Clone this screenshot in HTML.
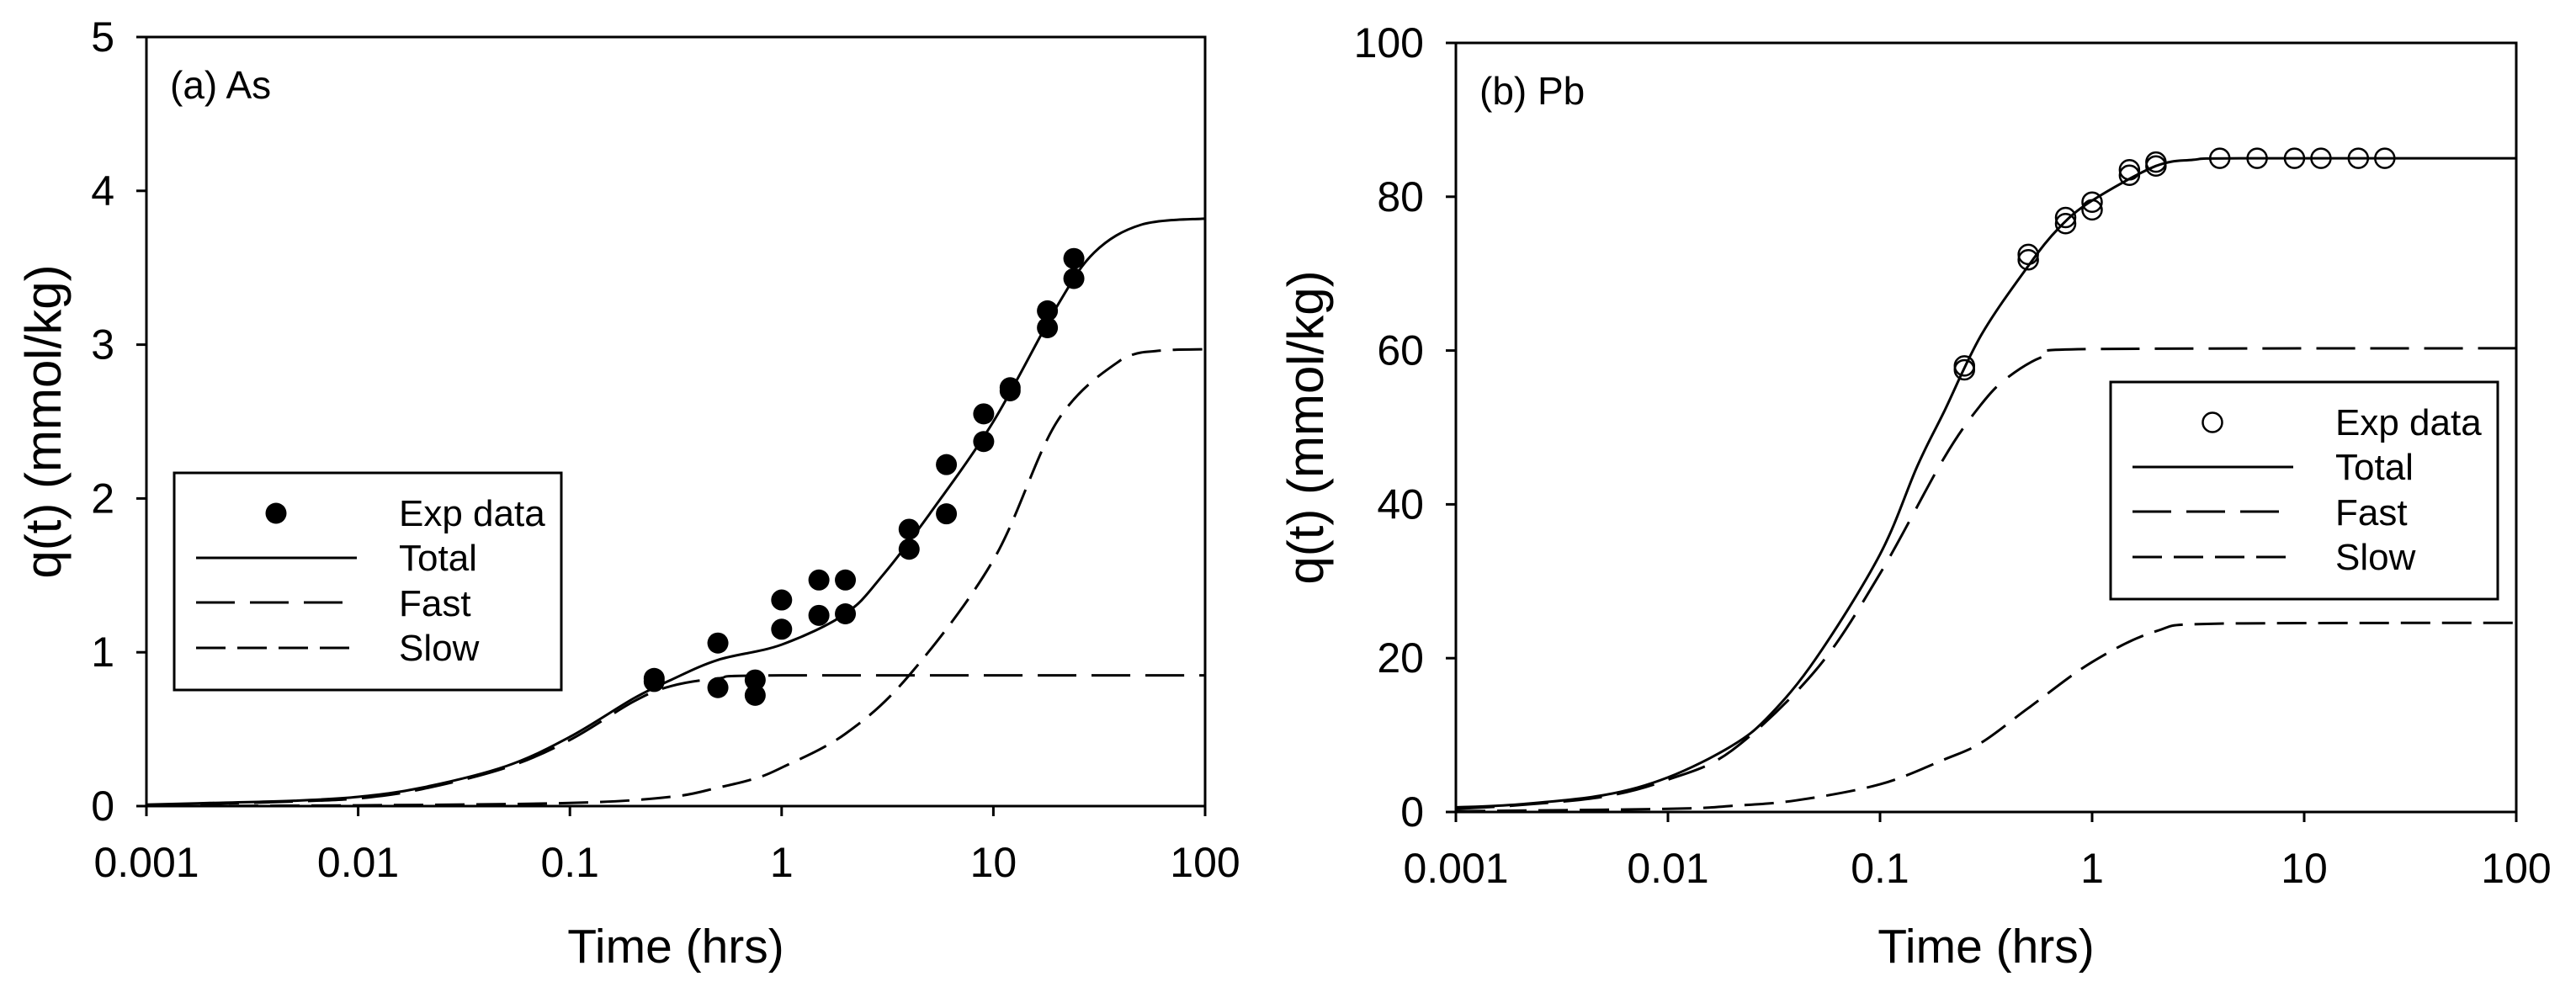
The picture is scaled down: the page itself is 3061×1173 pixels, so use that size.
<!DOCTYPE html>
<html><head><meta charset="utf-8"><style>
html,body{margin:0;padding:0;background:#fff}
svg{display:block;font-family:"Liberation Sans",Arial,sans-serif}
</style></head><body>
<svg id="fig" width="3061" height="1173" viewBox="0 0 3061 1173" xmlns="http://www.w3.org/2000/svg"></svg>
<script>
// ---------- Data: panel (a) As ----------
const asExpX = [0.25,0.25,0.5,0.5,0.75,0.75,1,1,1.5,1.5,2,2,4,4,6,6,9,9,12,12,18,18,24,24];
const asExpY = [0.83,0.81,1.06,0.77,0.82,0.72,1.34,1.15,1.47,1.24,1.47,1.25,1.80,1.67,2.22,1.90,2.55,2.37,2.72,2.70,3.22,3.11,3.56,3.43];
const asTotalX = [0.001,0.002,0.005,0.01,0.02,0.05,0.1,0.2,0.3,0.5,1,2,3,5,10,20,30,50,100];
const asTotalY = [0.01,0.02,0.035,0.06,0.12,0.26,0.45,0.70,0.82,0.95,1.05,1.25,1.5,1.9,2.5,3.25,3.6,3.78,3.82];
const asFastX = [0.001,0.002,0.005,0.01,0.02,0.05,0.1,0.2,0.3,0.5,1,100];
const asFastY = [0.005,0.015,0.03,0.05,0.11,0.25,0.43,0.68,0.78,0.83,0.85,0.85];
const asSlowX = [0.001,0.01,0.1,0.3,0.5,0.75,1,2,4,10,20,40,60,100];
const asSlowY = [0,0.005,0.02,0.06,0.12,0.18,0.25,0.47,0.85,1.6,2.5,2.9,2.96,2.97];
// ---------- Data: panel (b) Pb ----------
const pbExpX = [0.25,0.25,0.5,0.5,0.75,0.75,1,1,1.5,1.5,2,2,4,6,9,12,18,24];
const pbExpY = [57.5,58,71.8,72.5,76.5,77.3,78.3,79.3,82.8,83.5,84,84.5,85,85,85,85,85,85];
const pbTotalX = [0.001,0.002,0.005,0.01,0.02,0.03,0.05,0.1,0.15,0.2,0.3,0.5,0.7,1,2,3,5,100];
const pbTotalY = [0.6,1,2.2,4.5,8.6,12.5,20,33.5,45,52,62,71,76,79.5,84,84.8,85,85];
const pbFastX = [0.001,0.002,0.005,0.01,0.02,0.05,0.1,0.2,0.3,0.4,0.6,1,100];
const pbFastY = [0.4,0.9,2,4.2,8,18.5,31,46,53,56.5,59.3,60.2,60.3];
const pbSlowX = [0.001,0.01,0.02,0.04,0.1,0.2,0.3,0.5,1,2,4,100];
const pbSlowY = [0.1,0.4,0.8,1.5,3.6,6.8,9,13.5,19.5,23.5,24.5,24.6];
// ---------- Tick labels ----------
const xTickVals = [0.001,0.01,0.1,1,10,100];
const xTickLabels = ["0.001","0.01","0.1","1","10","100"];
const asYTicks = [0,1,2,3,4,5];
const pbYTicks = [0,20,40,60,80,100];
const legendLabels = ["Exp data","Total","Fast","Slow"];

const NS = "http://www.w3.org/2000/svg";
const svg = document.getElementById('fig');
function mk(tag, attrs, parent){
  const e = document.createElementNS(NS, tag);
  for (const k in attrs) e.setAttribute(k, attrs[k]);
  (parent||svg).appendChild(e); return e;
}
function smoothPath(pts){
  let d = 'M'+pts[0][0].toFixed(1)+','+pts[0][1].toFixed(1);
  for (let i=0;i<pts.length-1;i++){
    const p0=pts[Math.max(0,i-1)], p1=pts[i], p2=pts[i+1], p3=pts[Math.min(pts.length-1,i+2)];
    let c1x=p1[0]+(p2[0]-p0[0])/6, c1y=p1[1]+(p2[1]-p0[1])/6;
    let c2x=p2[0]-(p3[0]-p1[0])/6, c2y=p2[1]-(p3[1]-p1[1])/6;
    // clamp to segment y-range to avoid overshoot
    const lo=Math.min(p1[1],p2[1]), hi=Math.max(p1[1],p2[1]);
    c1y=Math.min(hi,Math.max(lo,c1y)); c2y=Math.min(hi,Math.max(lo,c2y));
    d+=` C${c1x.toFixed(1)},${c1y.toFixed(1)} ${c2x.toFixed(1)},${c2y.toFixed(1)} ${p2[0].toFixed(1)},${p2[1].toFixed(1)}`;
  }
  return d;
}

function panel(cfg){
  const g = mk('g', {});
  
  
  const L=cfg.x0, R=cfg.x1, T=cfg.y0, B=cfg.y1;
  const sx = v => L + (Math.log10(v)+3)/5*(R-L);
  const sy = v => B - v/cfg.ymax*(B-T);
  const frame = mk('rect',{x:L,y:T,width:R-L,height:B-T,fill:'none',stroke:'#000','stroke-width':3},g);
  
  
  cfg.yticks.forEach(v=>{
    const y = sy(v);
    const t = mk('line',{x1:L-12,x2:L,y1:y,y2:y,stroke:'#000','stroke-width':3},g);
    
    
    const tx = mk('text',{x:L-38,y:y+17,'text-anchor':'end','font-size':50},g);
    tx.textContent = String(v);
    
    
  });
  xTickVals.forEach((v,i)=>{
    const x = sx(v);
    const t = mk('line',{x1:x,x2:x,y1:B,y2:B+12,stroke:'#000','stroke-width':3},g);
    
    
    const tx = mk('text',{x:x,y:B+84,'text-anchor':'middle','font-size':50},g);
    tx.textContent = xTickLabels[i];
    
    
  });
  const xt = mk('text',{x:(L+R)/2,y:1144,'text-anchor':'middle','font-size':57},g);
  xt.textContent = 'Time (hrs)';
  
  
  const yx = cfg.ytitleX, yy=(T+B)/2;
  const yt = mk('text',{x:yx,y:yy,'text-anchor':'middle','font-size':60,transform:`rotate(-90 ${yx} ${yy})`},g);
  yt.textContent = 'q(t) (mmol/kg)';
  
  
  const pl = mk('text',{x:L+28,y:T+73,'font-size':46},g);
  pl.textContent = cfg.label;
  
  
  const line = (xs,ys,dash,name)=>{
    const pts = xs.map((x,i)=>[sx(x),sy(ys[i])]);
    const p = mk('path',{d:smoothPath(pts),fill:'none',stroke:'#000','stroke-width':3,'stroke-dasharray':dash},g);
    
    
  };
  line(cfg.tx,cfg.ty,'none','total-curve');
  line(cfg.fx,cfg.fy,'46 18','fast-curve');
  line(cfg.slx,cfg.sly,'35 14','slow-curve');
  cfg.ex.forEach((x,i)=>{
    const c = mk('circle',{cx:sx(x),cy:sy(cfg.ey[i]),r:cfg.filled?12.5:11.5,
      fill:cfg.filled?'#000':'none',stroke:'#000','stroke-width':cfg.filled?0:2.5},g);
    
    
  });
  const lx=cfg.lgX, ly=cfg.lgY;
  const lg = mk('g',{},g);
  
  
  mk('rect',{x:lx,y:ly,width:460,height:258,fill:'#fff',stroke:'#000','stroke-width':3},lg);
  const mc = mk('circle',{cx:lx+121,cy:ly+48,r:cfg.filled?12.5:11.5,fill:cfg.filled?'#000':'none',stroke:'#000','stroke-width':cfg.filled?0:2.5},lg);
  
  
  const dashes=['none','46 18','35 14'];
  [101,154,208].forEach((dy,i)=>{
    const ln = mk('line',{x1:lx+26,x2:lx+217-(i==1?15:i==2?8:0),y1:ly+dy,y2:ly+dy,stroke:'#000','stroke-width':3,'stroke-dasharray':dashes[i]},lg);
    
    
  });
  [63,116,170,223].forEach((dy,i)=>{
    const t = mk('text',{x:lx+267,y:ly+dy,'font-size':44},lg);
    t.textContent = legendLabels[i];
    
    
  });
}

panel({name:'panel-a-as',x0:174,x1:1432,y0:44,y1:958,ymax:5,yticks:asYTicks,ytitleX:72,label:'(a) As',
  tx:asTotalX,ty:asTotalY,fx:asFastX,fy:asFastY,slx:asSlowX,sly:asSlowY,ex:asExpX,ey:asExpY,filled:true,lgX:207,lgY:562});
panel({name:'panel-b-pb',x0:1730,x1:2990,y0:51,y1:965,ymax:100,yticks:pbYTicks,ytitleX:1572,label:'(b) Pb',
  tx:pbTotalX,ty:pbTotalY,fx:pbFastX,fy:pbFastY,slx:pbSlowX,sly:pbSlowY,ex:pbExpX,ey:pbExpY,filled:false,lgX:2508,lgY:454});
</script>
</body></html>
